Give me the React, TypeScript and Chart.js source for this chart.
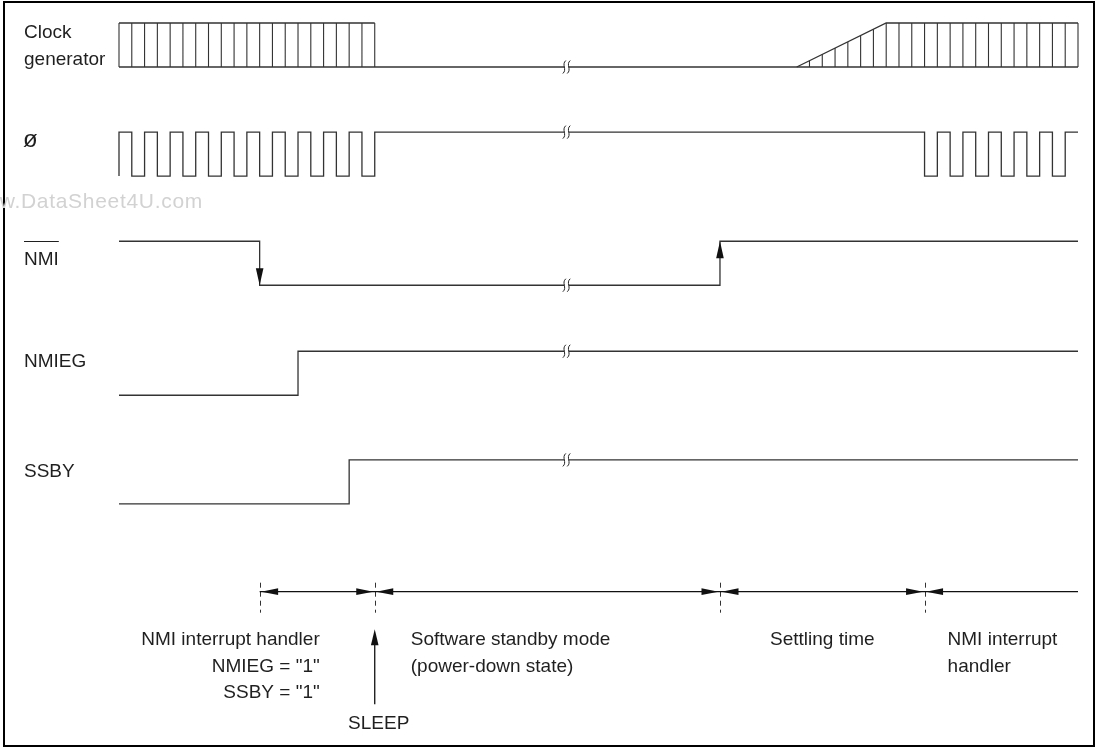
import React, { useEffect, useRef } from "react";
import { Chart, registerables } from "chart.js";

Chart.register(...registerables);

// ---------- data (time axis in clock half-cycles) ----------
const END_T = 75;
const BREAK_T = 35;

const ROW_LABELS = ["Clock", "ø", "NMI", "NMIEG", "SSBY"];

// Clock generator
const CLK_LOW_T = [0, 75];
const CLK_LOW_L = [0, 0];
const CLK_ENV_T = [0, 20, null, 53, 60, 75];
const CLK_ENV_L = [1, 1, null, 0, 1, 1];
const CLK_TICK_T = [
  0, 1, 2, 3, 4, 5, 6, 7, 8, 9, 10, 11, 12, 13, 14, 15, 16, 17, 18, 19, 20,
  54, 55, 56, 57, 58, 59, 60, 61, 62, 63, 64, 65, 66, 67, 68, 69, 70, 71, 72, 73, 74, 75,
];
const CLK_TICK_H = [
  1, 1, 1, 1, 1, 1, 1, 1, 1, 1, 1, 1, 1, 1, 1, 1, 1, 1, 1, 1, 1,
  0.14, 0.29, 0.43, 0.57, 0.71, 0.86, 1, 1, 1, 1, 1, 1, 1, 1, 1, 1, 1, 1, 1, 1, 1, 1,
];

// ø (system clock)
const PHI_START = 0;
const PHI_T = [
  0, 1, 2, 3, 4, 5, 6, 7, 8, 9, 10, 11, 12, 13, 14, 15, 16, 17, 18, 19, 20,
  63, 64, 65, 66, 67, 68, 69, 70, 71, 72, 73, 74, 75,
];
const PHI_L = [
  1, 0, 1, 0, 1, 0, 1, 0, 1, 0, 1, 0, 1, 0, 1, 0, 1, 0, 1, 0, 1,
  0, 1, 0, 1, 0, 1, 0, 1, 0, 1, 0, 1, 1,
];

// NMI (active low)
const NMI_START = 1;
const NMI_T = [0, 11, 47, 75];
const NMI_L = [1, 0, 1, 1];

// NMIEG
const NMIEG_START = 0;
const NMIEG_T = [0, 14, 75];
const NMIEG_L = [0, 1, 1];

// SSBY
const SSBY_START = 0;
const SSBY_T = [0, 18, 75];
const SSBY_L = [0, 1, 1];

// Phases
const PHASE_T = [11, 20, 47, 63];
const PHASE_END = 75;
const SLEEP_T = 20;
const PHASE_TEXTS = [
  ["NMI interrupt handler", 'NMIEG = "1"', 'SSBY = "1"'],
  ["Software standby mode", "(power-down state)"],
  ["Settling time"],
  ["NMI interrupt", "handler"],
];

// ---------- layout ----------
const W = 1100;
const H = 748;
const PX_T0 = 119;
const PX_TEND = 1078;
const PX_PER_T = (PX_TEND - PX_T0) / END_T;
const X_MIN = -PX_T0 / PX_PER_T;
const X_MAX = X_MIN + W / PX_PER_T;
const PX_V0 = 67;
const PX_PER_V = 44;
const Y_MAX = PX_V0 / PX_PER_V;
const Y_MIN = Y_MAX - H / PX_PER_V;
const ROW_BASE = [0, -2.48, -4.96, -7.46, -9.93];
const ANNOT_V = -11.925;

const LINE = "#333";
const TEXT = "#1f1f1f";
const FONT = '19px "Liberation Sans", Arial, Helvetica, sans-serif';

function stepPoints(T: number[], L: number[], start: number, base: number) {
  const pts: { x: number; y: number | null }[] = [{ x: T[0], y: base + start }];
  let prev = start;
  for (let i = 0; i < T.length; i++) {
    if (L[i] !== prev) pts.push({ x: T[i], y: base + prev });
    pts.push({ x: T[i], y: base + L[i] });
    prev = L[i];
  }
  return pts;
}

function levelAt(T: number[], L: number[], start: number, t: number) {
  let lvl = start;
  for (let i = 0; i < T.length; i++) if (T[i] <= t) lvl = L[i];
  return lvl;
}

function lineDs(data: any[], width = 1.3) {
  return {
    data,
    showLine: true,
    borderColor: LINE,
    borderWidth: width,
    pointRadius: 0,
    fill: false,
    spanGaps: false,
    tension: 0,
  };
}

function arrowHead(ctx: CanvasRenderingContext2D, x: number, y: number, dx: number, dy: number, len: number, half: number) {
  const bx = x - dx * len;
  const by = y - dy * len;
  ctx.beginPath();
  ctx.moveTo(x, y);
  ctx.lineTo(bx - dy * half, by + dx * half);
  ctx.lineTo(bx + dy * half, by - dx * half);
  ctx.closePath();
  ctx.fill();
}

const diagramPlugin = {
  id: "timingDiagram",
  afterDatasetsDraw(chart: any) {
    const ctx: CanvasRenderingContext2D = chart.ctx;
    const xs = chart.scales.x;
    const ys = chart.scales.y;
    const px = (t: number) => xs.getPixelForValue(t);
    const py = (v: number) => ys.getPixelForValue(v);
    ctx.save();

    // frame
    ctx.strokeStyle = "#000";
    ctx.lineWidth = 2;
    ctx.strokeRect(4, 2, 1090, 744);

    // row labels
    ctx.fillStyle = TEXT;
    ctx.font = FONT;
    ctx.textBaseline = "alphabetic";
    ctx.textAlign = "left";
    const top = (i: number) => py(ROW_BASE[i] + 1);
    ctx.fillText(ROW_LABELS[0], 24, top(0) + 15);
    ctx.fillText("generator", 24, top(0) + 41.5);
    ctx.font = '24px "Liberation Sans", Arial, Helvetica, sans-serif';
    ctx.fillText(ROW_LABELS[1], 23, top(1) + 15);
    ctx.font = FONT;
    const nmiBase = top(2) + 24;
    ctx.fillText(ROW_LABELS[2], 24, nmiBase);
    const nmiW = ctx.measureText(ROW_LABELS[2]).width;
    ctx.strokeStyle = TEXT;
    ctx.lineWidth = 1;
    ctx.beginPath();
    ctx.moveTo(24, Math.round(nmiBase - 24) + 0.5);
    ctx.lineTo(24 + nmiW, Math.round(nmiBase - 24) + 0.5);
    ctx.stroke();
    ctx.fillText(ROW_LABELS[3], 24, top(3) + 15.7);
    ctx.fillText(ROW_LABELS[4], 24, top(4) + 16.7);

    // break marks
    const breakLevels = [
      levelAt(CLK_LOW_T, CLK_LOW_L, 0, BREAK_T),
      levelAt(PHI_T, PHI_L, PHI_START, BREAK_T),
      levelAt(NMI_T, NMI_L, NMI_START, BREAK_T),
      levelAt(NMIEG_T, NMIEG_L, NMIEG_START, BREAK_T),
      levelAt(SSBY_T, SSBY_L, SSBY_START, BREAK_T),
    ];
    breakLevels.forEach((lvl, i) => {
      const cx = px(BREAK_T);
      const cy = py(ROW_BASE[i] + lvl);
      ctx.fillStyle = "#fff";
      ctx.fillRect(cx - 2.2, cy - 2, 4.4, 4);
      ctx.strokeStyle = "#222";
      ctx.lineWidth = 1;
      for (const dx of [-2.2, 2.2]) {
        ctx.beginPath();
        ctx.moveTo(cx + dx + 1.5, cy - 6.5);
        ctx.bezierCurveTo(cx + dx - 3.2, cy - 2.5, cx + dx + 3.2, cy + 2.5, cx + dx - 1.5, cy + 6.5);
        ctx.stroke();
      }
    });

    // NMI edge arrows
    ctx.fillStyle = "#111";
    const nmiHi = py(ROW_BASE[2] + 1);
    const nmiLo = py(ROW_BASE[2]);
    for (let i = 1; i < NMI_T.length - 1; i++) {
      if (NMI_L[i] < NMI_L[i - 1]) arrowHead(ctx, px(NMI_T[i]), nmiLo, 0, 1, 17, 3.8);
      else if (NMI_L[i] > NMI_L[i - 1]) arrowHead(ctx, px(NMI_T[i]), nmiHi, 0, -1, 17, 3.8);
    }

    // phase annotation
    const ay = py(ANNOT_V);
    ctx.strokeStyle = "#333";
    ctx.lineWidth = 1;
    ctx.setLineDash([5, 4]);
    PHASE_T.forEach((t) => {
      const x = Math.round(px(t)) + 0.5;
      ctx.beginPath();
      ctx.moveTo(x, ay - 9);
      ctx.lineTo(x, ay + 21);
      ctx.stroke();
    });
    ctx.setLineDash([]);
    ctx.strokeStyle = "#111";
    ctx.lineWidth = 1.3;
    ctx.beginPath();
    ctx.moveTo(px(PHASE_T[0]), ay);
    ctx.lineTo(px(PHASE_END), ay);
    ctx.stroke();
    ctx.fillStyle = "#111";
    PHASE_T.forEach((t, i) => {
      arrowHead(ctx, px(t) + 1.5, ay, -1, 0, 17, 3.4);
      if (i > 0) arrowHead(ctx, px(t) - 1.5, ay, 1, 0, 17, 3.4);
    });

    // SLEEP arrow
    const sx = px(SLEEP_T);
    ctx.beginPath();
    ctx.moveTo(sx, ay + 112.5);
    ctx.lineTo(sx, ay + 45);
    ctx.stroke();
    arrowHead(ctx, sx, ay + 37.5, 0, -1, 16, 3.8);

    // texts
    ctx.fillStyle = TEXT;
    ctx.font = FONT;
    const lh = 26.5;
    const b0 = ay + 53.3;
    ctx.textAlign = "right";
    PHASE_TEXTS[0].forEach((s, k) => ctx.fillText(s, px(PHASE_T[1]) - 55, b0 + k * lh));
    ctx.textAlign = "left";
    PHASE_TEXTS[1].forEach((s, k) => ctx.fillText(s, px(PHASE_T[1]) + 36, b0 + k * lh));
    PHASE_TEXTS[2].forEach((s, k) => ctx.fillText(s, px(PHASE_T[2]) + 50, b0 + k * lh));
    PHASE_TEXTS[3].forEach((s, k) => ctx.fillText(s, px(PHASE_T[3]) + 23, b0 + k * lh));
    ctx.textAlign = "center";
    ctx.fillText("SLEEP", sx + 4, ay + 137.5);

    // watermark
    ctx.fillStyle = "#d2d2d2";
    ctx.font = '21px "Liberation Sans", Arial, sans-serif';
    (ctx as any).letterSpacing = "0.7px";
    ctx.textAlign = "right";
    ctx.fillText("www.DataSheet4U.com", 203, 208);
    (ctx as any).letterSpacing = "0px";

    ctx.restore();
  },
};

export default function App() {
  const ref = useRef<HTMLCanvasElement | null>(null);
  useEffect(() => {
    if (!ref.current) return;
    const clkTicks: any[] = [];
    CLK_TICK_T.forEach((t, i) => {
      clkTicks.push({ x: t, y: ROW_BASE[0] }, { x: t, y: ROW_BASE[0] + CLK_TICK_H[i] }, { x: t, y: null });
    });
    const clkEnv = CLK_ENV_T.map((t, i) =>
      t === null ? { x: CLK_ENV_T[i - 1], y: null } : { x: t, y: ROW_BASE[0] + (CLK_ENV_L[i] as number) }
    );
    const chart = new Chart(ref.current, {
      type: "scatter",
      data: {
        datasets: [
          lineDs(stepPoints(CLK_LOW_T, CLK_LOW_L, 0, ROW_BASE[0])),
          lineDs(clkEnv),
          lineDs(clkTicks, 1.1),
          lineDs(stepPoints(PHI_T, PHI_L, PHI_START, ROW_BASE[1])),
          lineDs(stepPoints(NMI_T, NMI_L, NMI_START, ROW_BASE[2])),
          lineDs(stepPoints(NMIEG_T, NMIEG_L, NMIEG_START, ROW_BASE[3])),
          lineDs(stepPoints(SSBY_T, SSBY_L, SSBY_START, ROW_BASE[4])),
        ] as any,
      },
      options: {
        animation: false,
        responsive: false,
        events: [],
        layout: { padding: 0 },
        scales: {
          x: { type: "linear", min: X_MIN, max: X_MAX, display: false },
          y: { type: "linear", min: Y_MIN, max: Y_MAX, display: false },
        },
        plugins: { legend: { display: false }, tooltip: { enabled: false } },
      },
      plugins: [diagramPlugin],
    });
    return () => chart.destroy();
  }, []);
  return (
    <div style={{ position: "absolute", left: 0, top: 0, width: W, height: H, background: "#fff" }}>
      <canvas ref={ref} width={W} height={H} style={{ display: "block" }} />
    </div>
  );
}
